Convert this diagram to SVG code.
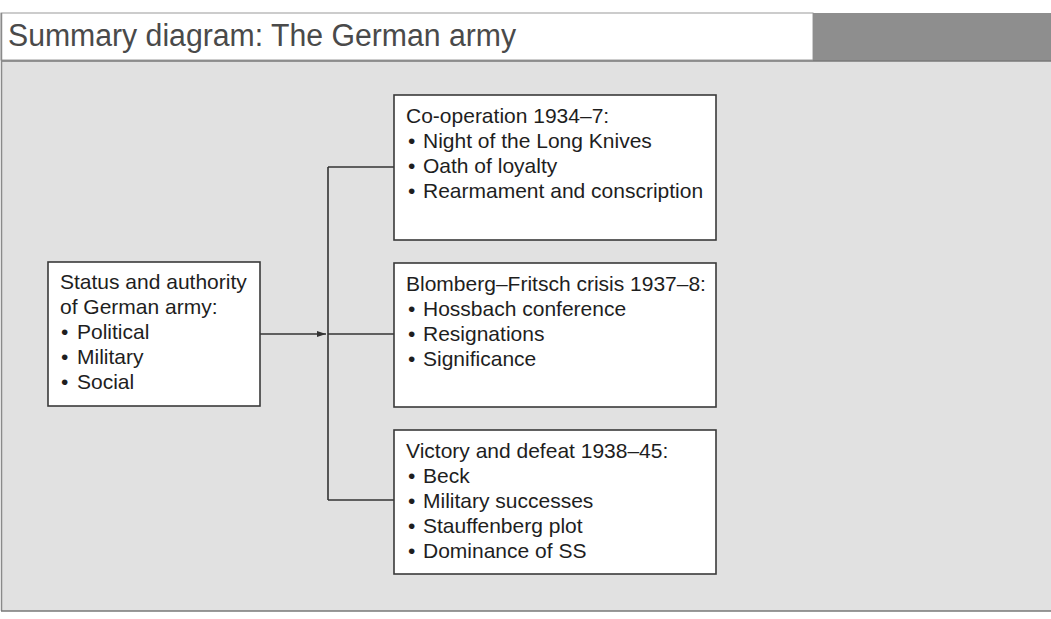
<svg xmlns="http://www.w3.org/2000/svg" width="1051" height="619" viewBox="0 0 1051 619">
<defs>
<style>
.box{fill:#ffffff;stroke:#3a3a3a;stroke-width:1.6}
.t{font-family:"Liberation Sans",Arial,sans-serif;font-size:21px;fill:#1e1e1e}
.ln{stroke:#333333;stroke-width:1.6;fill:none}
</style>
<marker id="ah" markerWidth="10" markerHeight="8" refX="9" refY="4" orient="auto" markerUnits="userSpaceOnUse">
<path d="M0,1 L9,4 L0,7 Z" fill="#333333"/>
</marker>
</defs>
<rect x="0" y="0" width="1051" height="619" fill="#ffffff"/>
<g id="frame">
<rect x="1" y="61" width="1050" height="550" fill="#e1e1e1"/>
<rect x="1" y="13" width="812" height="47" fill="#ffffff" stroke="#9a9a9a" stroke-width="1"/>
<rect x="813" y="13" width="238" height="48" fill="#8e8e8e"/>
<line x1="1" y1="61" x2="1051" y2="61" stroke="#777777" stroke-width="1.5"/>
<line x1="1.5" y1="13" x2="1.5" y2="611" stroke="#8a8a8a" stroke-width="1.5"/>
<line x1="1" y1="611" x2="1051" y2="611" stroke="#777777" stroke-width="1.5"/>
<text x="8" y="46" font-family="'Liberation Sans Narrow','Liberation Sans',Arial,sans-serif" font-size="31" fill="#4a4a4a" textLength="508" lengthAdjust="spacingAndGlyphs">Summary diagram: The German army</text>
</g>
<g id="connectors">
<line class="ln" x1="260" y1="334" x2="326" y2="334" marker-end="url(#ah)"/>
<line class="ln" x1="328" y1="167" x2="328" y2="500"/>
<line class="ln" x1="328" y1="167" x2="394" y2="167"/>
<line class="ln" x1="328" y1="334" x2="394" y2="334"/>
<line class="ln" x1="328" y1="500" x2="394" y2="500"/>
</g>
<g id="status">
<rect class="box" x="48" y="262" width="212" height="144"/>
<text class="t" x="60" y="289">Status and authority</text>
<text class="t" x="60" y="314">of German army:</text>
<text class="t" y="339"><tspan x="61">•</tspan><tspan x="77">Political</tspan></text>
<text class="t" y="364"><tspan x="61">•</tspan><tspan x="77">Military</tspan></text>
<text class="t" y="389"><tspan x="61">•</tspan><tspan x="77">Social</tspan></text>
</g>
<g id="cooperation">
<rect class="box" x="394" y="95" width="322" height="145"/>
<text class="t" x="406" y="123">Co-operation 1934–7:</text>
<text class="t" y="148"><tspan x="408">•</tspan><tspan x="423">Night of the Long Knives</tspan></text>
<text class="t" y="173"><tspan x="408">•</tspan><tspan x="423">Oath of loyalty</tspan></text>
<text class="t" y="198"><tspan x="408">•</tspan><tspan x="423">Rearmament and conscription</tspan></text>
</g>
<g id="blomberg">
<rect class="box" x="394" y="263" width="322" height="144"/>
<text class="t" x="406" y="291">Blomberg–Fritsch crisis 1937–8:</text>
<text class="t" y="316"><tspan x="408">•</tspan><tspan x="423">Hossbach conference</tspan></text>
<text class="t" y="341"><tspan x="408">•</tspan><tspan x="423">Resignations</tspan></text>
<text class="t" y="366"><tspan x="408">•</tspan><tspan x="423">Significance</tspan></text>
</g>
<g id="victory">
<rect class="box" x="394" y="430" width="322" height="144"/>
<text class="t" x="406" y="458">Victory and defeat 1938–45:</text>
<text class="t" y="483"><tspan x="408">•</tspan><tspan x="423">Beck</tspan></text>
<text class="t" y="508"><tspan x="408">•</tspan><tspan x="423">Military successes</tspan></text>
<text class="t" y="533"><tspan x="408">•</tspan><tspan x="423">Stauffenberg plot</tspan></text>
<text class="t" y="558"><tspan x="408">•</tspan><tspan x="423">Dominance of SS</tspan></text>
</g>
</svg>
